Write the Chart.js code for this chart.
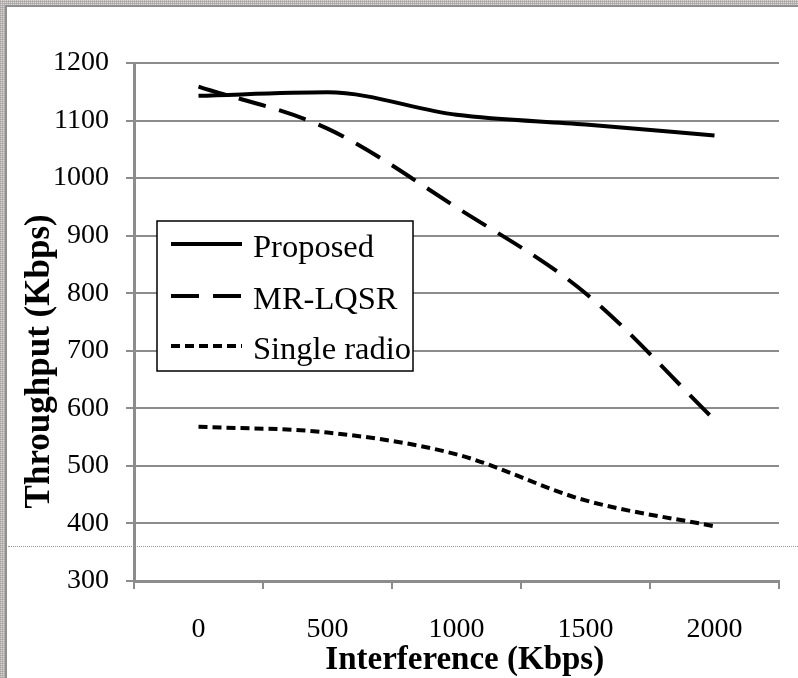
<!DOCTYPE html>
<html>
<head>
<meta charset="utf-8">
<script src="https://cdn.jsdelivr.net/npm/chart.js@4.4.0/dist/chart.umd.min.js"></script>
<style>
  html, body { margin: 0; padding: 0; background: #fff; }
  #frame {
    position: absolute; left: 0; top: 0; width: 798px; height: 678px; overflow: hidden;
    background:
      repeating-linear-gradient(0deg, rgba(150,145,145,0.55) 0 1px, rgba(0,0,0,0) 1px 2px),
      repeating-linear-gradient(90deg, #bdb8b8 0 1px, #dcd8d8 1px 2px);
  }
  #inner {
    position: absolute; left: 5px; top: 5px; width: 793px; height: 673px;
    background: #fff; border-left: 2px solid #8f8f8f; border-top: 2px solid #8f8f8f;
  }
  #dotted {
    position: absolute; left: 8px; top: 546px; width: 790px; height: 0;
    border-top: 1px dotted #9a9a9a;
  }
  #wrap { position: absolute; left: 0; top: 0; width: 798px; height: 678px; }
</style>
</head>
<body>
<div id="frame"><div id="inner"></div><div id="dotted"></div>
  <div id="wrap"><canvas id="c"></canvas></div>
</div>
<script>
// ---- data ----
const categories = ['0', '500', '1000', '1500', '2000'];
const proposed = [1143, 1149, 1110, 1093, 1074];
const mrLqsr = [1159, 1086, 949, 800, 580];
const singleRadio = [568, 558, 520, 440, 395];
const seriesNames = ['Proposed', 'MR-LQSR', 'Single radio'];
const yMin = 300, yMax = 1200, yStep = 100;
const xTitle = 'Interference (Kbps)';
const yTitle = 'Throughput (Kbps)';

const FONT = "'Liberation Serif', 'Times New Roman', serif";
const GRID = '#8c8c8c';

const boxLegend = {
  id: 'boxLegend',
  afterDatasetsDraw(chart) {
    const ctx = chart.ctx;
    const x0 = 157, y0 = 221, w = 256, h = 150;
    ctx.save();
    ctx.fillStyle = '#fff';
    ctx.fillRect(x0, y0, w, h);
    ctx.strokeStyle = '#000';
    ctx.lineWidth = 1.5;
    ctx.strokeRect(x0, y0, w, h);
    const rows = [244, 296, 346];
    chart.data.datasets.forEach((ds, i) => {
      const y = rows[i];
      ctx.beginPath();
      ctx.setLineDash(ds.borderDash || []);
      ctx.lineDashOffset = 0;
      ctx.strokeStyle = ds.borderColor;
      ctx.lineWidth = ds.borderWidth;
      ctx.lineCap = 'butt';
      ctx.moveTo(171, y);
      ctx.lineTo(242, y);
      ctx.stroke();
      ctx.setLineDash([]);
      ctx.fillStyle = '#000';
      ctx.font = '32.5px ' + FONT;
      ctx.textBaseline = 'alphabetic';
      ctx.textAlign = 'left';
      ctx.fillText(ds.label, 253, y + 13);
    });
    ctx.restore();
  }
};

new Chart(document.getElementById('c'), {
  type: 'line',
  data: {
    labels: categories,
    datasets: [
      { label: seriesNames[0], data: proposed, borderColor: '#000', borderWidth: 4, borderDash: [],
        pointRadius: 0, cubicInterpolationMode: 'monotone', fill: false },
      { label: seriesNames[1], data: mrLqsr, borderColor: '#000', borderWidth: 4, borderDash: [28, 14],
        pointRadius: 0, cubicInterpolationMode: 'monotone', fill: false },
      { label: seriesNames[2], data: singleRadio, borderColor: '#000', borderWidth: 4, borderDash: [9, 5],
        pointRadius: 0, cubicInterpolationMode: 'monotone', fill: false }
    ]
  },
  options: {
    responsive: true,
    maintainAspectRatio: false,
    animation: false,
    devicePixelRatio: 1,
    layout: { padding: { left: 0, top: 63, right: 19, bottom: 0 } },
    plugins: { legend: { display: false }, title: { display: false }, tooltip: { enabled: false } },
    scales: {
      x: {
        type: 'category',
        offset: true,
        grid: { display: true, drawOnChartArea: false, drawTicks: true, tickLength: 8, offset: true,
                color: GRID, lineWidth: 2 },
        border: { display: true, color: GRID, width: 3 },
        ticks: { color: '#000', font: { family: FONT, size: 28 }, padding: 24, maxRotation: 0 },
        title: { display: true, text: '\u00A0\u00A0' + xTitle, color: '#000',
                 font: { family: FONT, size: 33, weight: 'bold' }, padding: { top: 0, bottom: -2 } },
        afterFit(s) { s.height = 97; }
      },
      y: {
        min: yMin, max: yMax,
        grid: { color: GRID, lineWidth: 2, tickLength: 8, drawTicks: true },
        border: { display: true, color: GRID, width: 3 },
        ticks: { stepSize: yStep, color: '#000', font: { family: FONT, size: 28 }, padding: 17,
                 callback: (v) => String(v) },
        title: { display: true, text: yTitle + '\u00A0'.repeat(9), color: '#000',
                 font: { family: FONT, size: 35, weight: 'bold' }, padding: { top: 19, bottom: 0 } },
        afterFit(s) { s.width = 134; }
      }
    }
  },
  plugins: [boxLegend]
});
</script>
</body>
</html>
